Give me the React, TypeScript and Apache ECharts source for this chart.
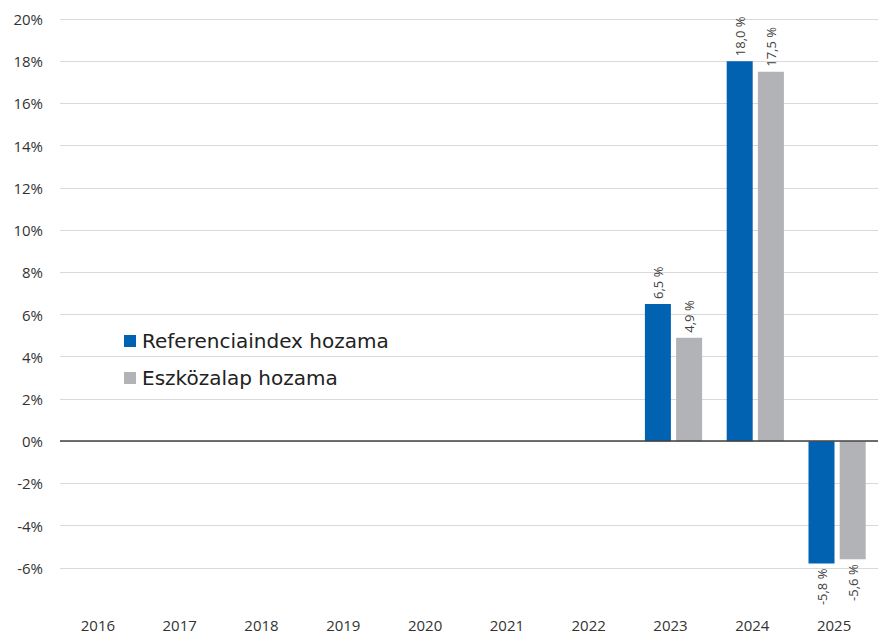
import React, { useEffect, useRef } from "react";
import * as echarts from "echarts";

const years = ["2016", "2017", "2018", "2019", "2020", "2021", "2022", "2023", "2024", "2025"];
const referenceIndex: (number | null)[] = [null, null, null, null, null, null, null, 6.5, 18.0, -5.8];
const fundReturn: (number | null)[] = [null, null, null, null, null, null, null, 4.9, 17.5, -5.6];
const seriesNames = ["Referenciaindex hozama", "Eszközalap hozama"];
const colors = ["#0062B0", "#B2B3B7"];

const fmt = (v: number) => v.toFixed(1).replace(".", ",") + " %";

function buildData(values: (number | null)[]) {
  return values.map((v) => {
    if (v === null) return null;
    if (v < 0) {
      return {
        value: v,
        label: { position: "bottom", align: "right", verticalAlign: "middle" },
      };
    }
    return { value: v };
  });
}

export default function App() {
  const ref = useRef<HTMLDivElement>(null);
  useEffect(() => {
    if (!ref.current) return;
    const chart = echarts.init(ref.current, null, { renderer: "svg" });
    const labelCfg = {
      show: true,
      position: "top",
      rotate: 90,
      align: "left",
      verticalAlign: "middle",
      distance: 5,
      fontFamily: "Open Sans",
      fontSize: 13,
      color: "#404040",
      formatter: (p: any) => fmt(p.value),
    };
    chart.setOption({
      animation: false,
      textStyle: { fontFamily: "Open Sans" },
      grid: { left: 60, width: 822, top: 19, bottom: 23, containLabel: false },
      legend: {
        orient: "vertical",
        left: 119,
        top: 326,
        itemWidth: 12,
        itemHeight: 12,
        itemGap: 17,
        icon: "rect",
        textStyle: { fontFamily: "DejaVu Sans", fontSize: 20, color: "#222", padding: [0, 0, 0, 1] },
        data: seriesNames,
      },
      xAxis: {
        type: "category",
        data: years,
        axisLine: { show: false, onZero: false },
        axisTick: { show: false },
        axisLabel: {
          fontFamily: "Open Sans",
          fontSize: 15,
          color: "#333",
          margin: 7,
          padding: [0, 6, 0, 0],
        },
      },
      yAxis: {
        type: "value",
        min: -8,
        max: 20,
        interval: 2,
        axisLine: { show: false },
        axisTick: { show: false },
        splitLine: { show: true, showMinLine: false, lineStyle: { color: "#D9D9D9", width: 1 } },
        axisLabel: {
          fontFamily: "Open Sans",
          fontSize: 15,
          color: "#333",
          margin: 17,
          formatter: (v: number) => (v === -8 ? "" : v + "%"),
        },
      },
      series: [
        {
          name: seriesNames[0],
          type: "bar",
          data: buildData(referenceIndex),
          itemStyle: { color: colors[0] },
          barWidth: 26,
          barGap: "20%",
          label: labelCfg,
          markLine: {
            silent: true,
            symbol: "none",
            label: { show: false },
            lineStyle: { color: "#404040", type: "solid", width: 1.5 },
            data: [{ yAxis: 0 }],
          },
        },
        {
          name: seriesNames[1],
          type: "bar",
          data: buildData(fundReturn),
          itemStyle: { color: colors[1] },
          barWidth: 26,
          label: labelCfg,
        },
      ],
    });
    return () => chart.dispose();
  }, []);
  return (
    <div
      ref={ref}
      style={{ position: "fixed", left: 0, top: 0, width: 878, height: 633, background: "#fff" }}
    />
  );
}
